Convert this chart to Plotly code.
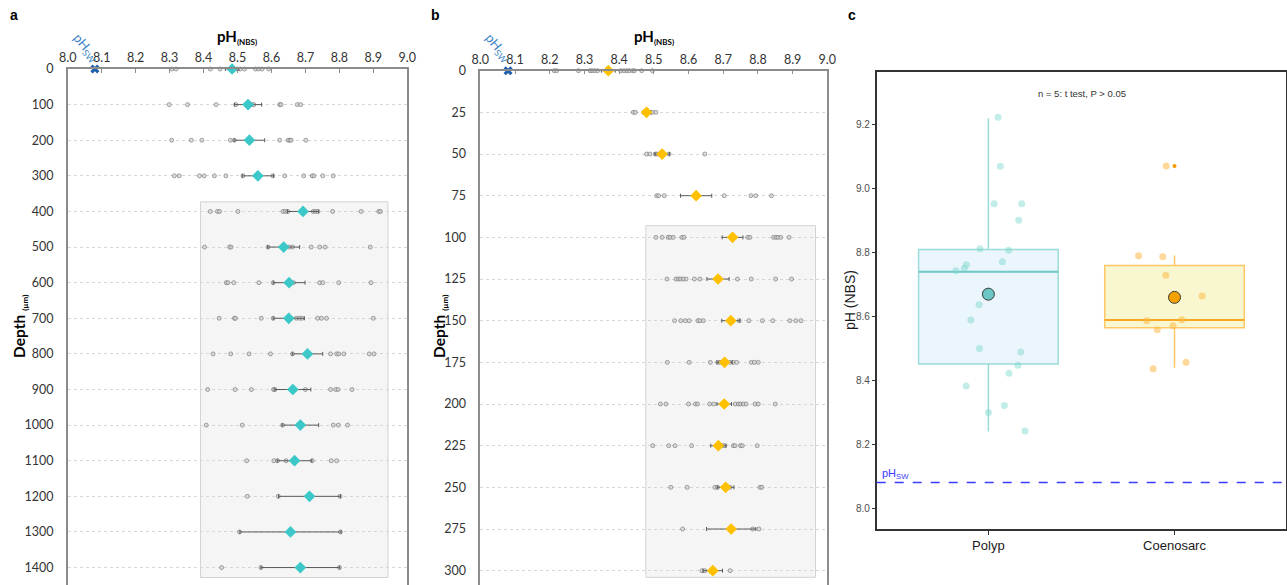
import plotly.graph_objects as go

W, H = 1287, 585

# ---------------- Panel a data (depth in µm, pH NBS) ----------------
DEPTHS_A = [0, 100, 200, 300, 400, 500, 600, 700, 800, 900, 1000, 1100, 1200, 1300, 1400]
MEAN_A = [8.484, 8.531, 8.535, 8.560, 8.693, 8.636, 8.652, 8.651, 8.706, 8.663, 8.685, 8.668, 8.712, 8.656, 8.685]
SE_A = [0.020, 0.040, 0.045, 0.046, 0.046, 0.047, 0.047, 0.046, 0.045, 0.053, 0.054, 0.051, 0.091, 0.149, 0.116]
POINTS_A = [
    [8.307, 8.319, 8.420, 8.449, 8.499, 8.508, 8.521, 8.553, 8.562, 8.572, 8.592],
    [8.299, 8.353, 8.437, 8.495, 8.543, 8.548, 8.624, 8.628, 8.676, 8.686],
    [8.306, 8.364, 8.395, 8.479, 8.491, 8.624, 8.649, 8.654, 8.658, 8.701],
    [8.314, 8.328, 8.388, 8.402, 8.432, 8.466, 8.516, 8.604, 8.639, 8.695, 8.720, 8.725, 8.751, 8.782],
    [8.420, 8.441, 8.447, 8.501, 8.634, 8.641, 8.648, 8.723, 8.729, 8.736, 8.780, 8.864, 8.916, 8.921],
    [8.403, 8.477, 8.481, 8.590, 8.652, 8.662, 8.717, 8.742, 8.758, 8.891],
    [8.467, 8.472, 8.489, 8.563, 8.605, 8.665, 8.742, 8.751, 8.798, 8.893],
    [8.446, 8.491, 8.494, 8.570, 8.605, 8.673, 8.682, 8.690, 8.736, 8.747, 8.762, 8.900],
    [8.428, 8.480, 8.534, 8.597, 8.662, 8.774, 8.792, 8.798, 8.813, 8.888, 8.902],
    [8.412, 8.493, 8.541, 8.606, 8.610, 8.700, 8.774, 8.789, 8.796, 8.837],
    [8.408, 8.514, 8.633, 8.782, 8.797, 8.824],
    [8.527, 8.607, 8.618, 8.643, 8.720, 8.776, 8.792],
    [8.529, 8.620, 8.802],
    [8.506, 8.803],
    [8.453, 8.569, 8.800],
]
REGION_A = dict(ph0=8.391, ph1=8.943, d0=373, d1=1428)

# ---------------- Panel b data ----------------
DEPTHS_B = [0, 25, 50, 75, 100, 125, 150, 175, 200, 225, 250, 275, 300]
MEAN_B = [8.369, 8.479, 8.524, 8.622, 8.727, 8.685, 8.722, 8.704, 8.703, 8.686, 8.707, 8.723, 8.670]
SE_B = [0.020, 0.012, 0.021, 0.045, 0.030, 0.032, 0.026, 0.022, 0.021, 0.022, 0.024, 0.071, 0.028]
POINTS_B = [
    [8.213, 8.220, 8.283, 8.316, 8.322, 8.330, 8.338, 8.405, 8.414, 8.422, 8.429, 8.439, 8.444, 8.465, 8.496],
    [8.441, 8.447, 8.489, 8.496, 8.506],
    [8.479, 8.489, 8.504, 8.510, 8.516, 8.544, 8.647],
    [8.508, 8.514, 8.530, 8.703, 8.780, 8.794, 8.839],
    [8.506, 8.524, 8.541, 8.547, 8.556, 8.581, 8.587, 8.771, 8.777, 8.845, 8.852, 8.858, 8.866, 8.890],
    [8.538, 8.564, 8.571, 8.577, 8.585, 8.593, 8.617, 8.633, 8.741, 8.781, 8.851, 8.897],
    [8.560, 8.578, 8.591, 8.602, 8.627, 8.633, 8.643, 8.746, 8.774, 8.813, 8.843, 8.892, 8.909, 8.924],
    [8.539, 8.602, 8.663, 8.684, 8.691, 8.720, 8.729, 8.739, 8.781, 8.790, 8.801],
    [8.519, 8.535, 8.600, 8.620, 8.626, 8.661, 8.673, 8.735, 8.744, 8.750, 8.758, 8.766, 8.792, 8.801, 8.850],
    [8.497, 8.543, 8.561, 8.609, 8.698, 8.705, 8.729, 8.734, 8.750, 8.755, 8.798],
    [8.549, 8.596, 8.676, 8.684, 8.720, 8.806, 8.811],
    [8.583, 8.785, 8.803],
    [8.639, 8.647, 8.720],
]
REGION_B = dict(ph0=8.477, ph1=8.966, d0=93, d1=304)

PH_SW = 8.08

# ---------------- Panel c data ----------------
GROUPS = ["Polyp", "Coenosarc"]
Q1 = [8.451, 8.564]
MEDIAN = [8.739, 8.588]
Q3 = [8.809, 8.759]
LOWER = [8.240, 8.439]
UPPER = [9.219, 8.790]
MEANS_C = [8.669, 8.659]
POLYP_PH = [9.222, 9.069, 8.952, 8.952, 8.900, 8.811, 8.806, 8.770, 8.761, 8.750, 8.742,
            8.636, 8.588, 8.499, 8.488, 8.447, 8.422, 8.382, 8.321, 8.299, 8.241]
POLYP_JITTER = [0.052, 0.064, 0.031, 0.179, 0.163, -0.045, 0.109, 0.075, -0.118, -0.129, -0.175,
                -0.050, -0.094, -0.048, 0.174, 0.159, 0.111, -0.120, 0.086, 0.000, 0.197]
COENO_PH = [9.070, 8.789, 8.786, 8.728, 8.663, 8.586, 8.589, 8.558, 8.570, 8.456, 8.436]
COENO_JITTER = [-0.045, -0.193, -0.063, -0.047, 0.148, -0.149, 0.039, -0.093, -0.008, 0.062, -0.115]
COENO_OUTLIERS = [9.070]

BOX_WIDTH = 0.75

# ---------------- styles ----------------
FONT_AB = "Lato"
FONT_C = "Liberation Sans, Arial"
FRAME = "#8C8C8C"
GRID = "#D6D6D6"
TEAL = "#3CC8C8"
GOLD = "#FFC000"

fig = go.Figure()


def profile(xa, ya, depths, means, ses, points, color):
    xs, ys = [], []
    for d, pts in zip(depths, points):
        xs.extend(pts)
        ys.extend([d] * len(pts))
    fig.add_trace(go.Scatter(
        x=xs, y=ys, mode="markers", xaxis=xa, yaxis=ya, cliponaxis=False,
        marker=dict(size=4, color="rgba(210,210,210,0.7)",
                    line=dict(color="rgba(115,115,115,0.8)", width=0.8)),
        showlegend=False, hoverinfo="skip"))
    fig.add_trace(go.Scatter(
        x=means, y=depths, mode="markers", xaxis=xa, yaxis=ya, cliponaxis=False,
        error_x=dict(type="data", array=ses, color="#5A5A5A", thickness=1, width=2),
        marker=dict(symbol="diamond", size=9, color=color, line=dict(width=0)),
        showlegend=False))
    fig.add_trace(go.Scatter(
        x=[PH_SW], y=[0], mode="markers", xaxis=xa, yaxis=ya, cliponaxis=False,
        marker=dict(symbol="x", size=8, color="#1F5FAF", line=dict(width=0)),
        showlegend=False))


profile("x", "y", DEPTHS_A, MEAN_A, SE_A, POINTS_A, TEAL)
profile("x2", "y2", DEPTHS_B, MEAN_B, SE_B, POINTS_B, GOLD)

# grey shaded regions
for ref, reg in (("", REGION_A), ("2", REGION_B)):
    fig.add_shape(type="rect", xref="x" + ref, yref="y" + ref,
                  x0=reg["ph0"], x1=reg["ph1"], y0=reg["d0"], y1=reg["d1"],
                  fillcolor="#F5F5F5", line=dict(color="#D3D3D3", width=1), layer="below")

# ---------------- Panel c ----------------
box_fill = ["#EAF5FC", "#F8F7CF"]
box_line = ["#9ADCD8", "#FFC766"]
med_line = ["#71C9C7", "#F7A823"]
for i, g in enumerate(GROUPS):
    fig.add_trace(go.Box(
        x=[i], q1=[Q1[i]], median=[MEDIAN[i]], q3=[Q3[i]],
        lowerfence=[LOWER[i]], upperfence=[UPPER[i]],
        width=BOX_WIDTH, whiskerwidth=0, boxpoints=False,
        fillcolor=box_fill[i], line=dict(color=box_line[i], width=1.5),
        xaxis="x3", yaxis="y3", showlegend=False, hoverinfo="skip"))
    fig.add_trace(go.Scatter(
        x=[i - BOX_WIDTH / 2, i + BOX_WIDTH / 2], y=[MEDIAN[i], MEDIAN[i]],
        mode="lines", line=dict(color=med_line[i], width=2),
        xaxis="x3", yaxis="y3", showlegend=False, hoverinfo="skip"))

fig.add_trace(go.Scatter(
    x=[0 + j for j in POLYP_JITTER], y=POLYP_PH, mode="markers",
    marker=dict(size=7, color="rgba(120,215,205,0.45)"),
    xaxis="x3", yaxis="y3", showlegend=False))
fig.add_trace(go.Scatter(
    x=[1 + j for j in COENO_JITTER], y=COENO_PH, mode="markers",
    marker=dict(size=7, color="rgba(255,185,70,0.55)"),
    xaxis="x3", yaxis="y3", showlegend=False))
fig.add_trace(go.Scatter(
    x=[1] * len(COENO_OUTLIERS), y=COENO_OUTLIERS, mode="markers",
    marker=dict(size=4, color="#F59A00"),
    xaxis="x3", yaxis="y3", showlegend=False))
fig.add_trace(go.Scatter(
    x=[0, 1], y=MEANS_C, mode="markers",
    marker=dict(size=12, color=["#6CC6C3", "#F5A100"], line=dict(color="#3A3A3A", width=1)),
    xaxis="x3", yaxis="y3", showlegend=False))

fig.add_shape(type="line", xref="x3 domain", yref="y3", x0=0, x1=1, y0=PH_SW, y1=PH_SW,
              line=dict(color="#3B3BFF", width=1.5, dash="dash"))


# ---------------- axes ----------------
def px_x(p):
    return p / W


def px_y(p):
    return 1 - p / H


ab_tick = dict(family=FONT_AB, size=12.5, color="#333333")
fig.update_layout(
    width=W, height=H, margin=dict(l=0, r=0, t=0, b=0, autoexpand=False),
    paper_bgcolor="white", plot_bgcolor="white",
    xaxis=dict(domain=[px_x(67.7), px_x(407.3)], range=[8.0, 9.0], side="top", anchor="y",
               dtick=0.1, tick0=8.0, tickformat=".1f", ticks="inside", ticklen=4, tickcolor=FRAME,
               showline=True, linecolor=FRAME, linewidth=1.5, showgrid=False, zeroline=False,
               tickfont=ab_tick, automargin=False),
    yaxis=dict(domain=[0, px_y(69)], range=[1449, 0], anchor="x", tickvals=DEPTHS_A,
               showgrid=True, gridcolor=GRID, griddash="dot", gridwidth=1,
               showline=True, mirror=True, linecolor=FRAME, linewidth=1.5, zeroline=False,
               ticks="", ticklabelstandoff=10, tickfont=ab_tick, automargin=False),
    xaxis2=dict(domain=[px_x(480.3), px_x(827.3)], range=[8.0, 9.0], side="top", anchor="y2",
                dtick=0.1, tick0=8.0, tickformat=".1f", ticks="inside", ticklen=4, tickcolor=FRAME,
                showline=True, linecolor=FRAME, linewidth=1.5, showgrid=False, zeroline=False,
                tickfont=ab_tick, automargin=False),
    yaxis2=dict(domain=[0, px_y(70.7)], range=[308.6, 0], anchor="x2", tickvals=DEPTHS_B,
                showgrid=True, gridcolor=GRID, griddash="dot", gridwidth=1,
                showline=True, mirror=True, linecolor=FRAME, linewidth=1.5, zeroline=False,
                ticks="", ticklabelstandoff=10, tickfont=ab_tick, automargin=False),
    xaxis3=dict(domain=[px_x(876.7), px_x(1286.2)], range=[-0.6, 1.6], anchor="y3",
                tickvals=[0, 1], ticktext=GROUPS, ticks="outside", ticklen=4, tickcolor="#333333",
                showline=True, mirror=True, linecolor="#333333", linewidth=1.5,
                showgrid=False, zeroline=False, automargin=False,
                tickfont=dict(family=FONT_C, size=13, color="#1A1A1A")),
    yaxis3=dict(domain=[px_y(529), px_y(72.3)], range=[7.935, 9.3625], anchor="x3",
                dtick=0.2, tick0=8.0, tickformat=".1f", ticks="outside", ticklen=3, tickcolor="#333333",
                showline=True, mirror=True, linecolor="#333333", linewidth=1.5,
                showgrid=False, zeroline=False, automargin=False,
                tickfont=dict(family=FONT_C, size=10, color="#4D4D4D")),
)

ann = []


def note(text, x, y, size, color="black", family=FONT_C, angle=0):
    ann.append(dict(text=text, x=px_x(x), y=px_y(y),
                    xref="paper", yref="paper", showarrow=False, textangle=angle,
                    xanchor="center", yanchor="middle",
                    font=dict(family=family, size=size, color=color)))


# panel letters
for t, x in (("a", 14), ("b", 435), ("c", 852)):
    note("<b>%s</b>" % t, x, 15, 14)
# pH(NBS) titles & depth titles
for cx, dx in ((237, 20), (654, 440)):
    note("<b>pH</b><sub><span style='font-size:8px'><b>(NBS)</b></span></sub>", cx, 37, 15,
         family=FONT_AB)
    note("<b>Depth</b> <sub><span style='font-size:8px'><b>(µm)</b></span></sub>", dx, 327, 15.5,
         family=FONT_AB, angle=-90)
# rotated pH_sw labels
for cx in (86, 498):
    note("pH<sub>SW</sub>", cx, 48, 13, color="#3D85C6", family=FONT_AB, angle=50)
# panel c texts
note("n = 5: t test, P > 0.05", 1082, 93, 9.5, color="#333333")
note("pH (NBS)", 850, 300, 14, color="#1A1A1A", angle=-90)
ann.append(dict(text="pH<sub>SW</sub>", x=px_x(880), y=PH_SW, xref="paper", yref="y3",
                xanchor="left", yanchor="bottom", showarrow=False,
                font=dict(family=FONT_C, size=11, color="#3B3BFF")))
fig.update_layout(annotations=ann)

fig.write_html("out.html", config={"displayModeBar": False},
               post_script="document.body.style.margin='0px';")
